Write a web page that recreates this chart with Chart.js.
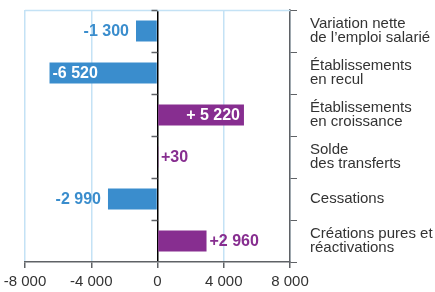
<!DOCTYPE html>
<html>
<head>
<meta charset="utf-8">
<script src="https://cdn.jsdelivr.net/npm/chart.js@4"></script>
<style>
  html, body { margin: 0; padding: 0; background: #fff; }
  #wrap { width: 435px; height: 292px; }
</style>
</head>
<body>
<div id="wrap"><canvas id="barChart" width="435" height="292"></canvas></div>
<script>
// Data
const categories = [
  ['Variation nette', 'de l\u2019emploi salarié'],
  ['Établissements', 'en recul'],
  ['Établissements', 'en croissance'],
  ['Solde', 'des transferts'],
  'Cessations',
  ['Créations pures et', 'réactivations']
];
const values = [-1300, -6520, 5220, 30, -2990, 2960];
const valueLabels = ['-1 300', '-6 520', '+ 5 220', '+30', '-2 990', '+2 960'];
const xTicks = [-8000, -4000, 0, 4000, 8000];

const BLUE = '#3a8dcd';
const PURPLE = '#872e90';
const GRID = '#c4e2f5';
const AXIS = '#5f6266';
const FONT = "'Liberation Sans', Arial, sans-serif";

function fmt(v) {
  const s = Math.abs(v).toString().replace(/\B(?=(\d{3})+(?!\d))/g, ' ');
  return (v < 0 ? '-' : '') + s;
}

// top border, ticks on the zero line and value labels
const extras = {
  id: 'extras',
  beforeDatasetsDraw(chart) {
    const { ctx, chartArea, scales } = chart;
    ctx.save();
    ctx.strokeStyle = GRID;
    ctx.lineWidth = 1.5;
    ctx.beginPath();
    ctx.moveTo(chartArea.left, chartArea.top + 0.5);
    ctx.lineTo(chartArea.right, chartArea.top + 0.5);
    ctx.stroke();
    // small ticks left of the zero line
    const x0 = scales.x.getPixelForValue(0);
    const step = (chartArea.bottom - chartArea.top) / categories.length;
    ctx.strokeStyle = AXIS;
    for (let i = 0; i < categories.length; i++) {
      const y = Math.round(chartArea.top + i * step) + 0.5;
      ctx.beginPath();
      ctx.moveTo(x0 - 6, y);
      ctx.lineTo(x0, y);
      ctx.stroke();
    }
    ctx.restore();
  },
  afterDatasetsDraw(chart) {
    const { ctx } = chart;
    const meta = chart.getDatasetMeta(0);
    ctx.save();
    ctx.font = "bold 16px " + FONT;
    ctx.textBaseline = 'middle';
    meta.data.forEach((bar, i) => {
      const v = values[i];
      const inside = Math.abs(v) > 4000;
      const txt = valueLabels[i];
      if (v < 0) {
        if (inside) {
          ctx.fillStyle = '#fff';
          ctx.textAlign = 'left';
          ctx.fillText(txt, bar.x + 3, bar.y + 1);
        } else {
          ctx.fillStyle = BLUE;
          ctx.textAlign = 'right';
          ctx.fillText(txt, bar.x - 7, bar.y + 1);
        }
      } else {
        if (inside) {
          ctx.fillStyle = '#fff';
          ctx.textAlign = 'right';
          ctx.fillText(txt, bar.x - 4, bar.y + 1);
        } else {
          ctx.fillStyle = PURPLE;
          ctx.textAlign = 'left';
          ctx.fillText(txt, bar.x + 3, bar.y + 1);
        }
      }
    });
    ctx.restore();
  }
};

const ctxBar = document.getElementById('barChart').getContext('2d');
new Chart(ctxBar, {
  type: 'bar',
  data: {
    labels: categories,
    datasets: [{
      data: values,
      backgroundColor: values.map(v => v < 0 ? BLUE : PURPLE),
      borderWidth: 0,
      categoryPercentage: 1,
      barPercentage: 0.5
    }]
  },
  options: {
    indexAxis: 'y',
    responsive: false,
    animation: false,
    layout: { padding: { top: 10, left: 25, right: 0, bottom: 0 } },
    plugins: {
      legend: { display: false },
      tooltip: { enabled: false }
    },
    scales: {
      x: {
        min: -8000,
        max: 8000,
        afterBuildTicks(scale) { scale.ticks = xTicks.map(v => ({ value: v })); },
        afterFit(scale) {
          scale.height = 30;
          scale.paddingLeft = 0;
          scale.paddingRight = 0;
        },
        border: { color: AXIS, width: 1.5 },
        grid: {
          color: ctx => ctx.tick && ctx.tick.value === 0 ? '#000' : GRID,
          lineWidth: 1.5,
          tickColor: AXIS,
          tickLength: 6
        },
        ticks: {
          color: '#333',
          font: { family: FONT, size: 15 },
          padding: 5,
          maxRotation: 0,
          callback: v => fmt(v)
        }
      },
      y: {
        position: 'right',
        afterFit(scale) {
          scale.width = 145;
          scale.paddingTop = 0;
          scale.paddingBottom = 0;
        },
        border: { color: AXIS, width: 1.5 },
        grid: {
          offset: true,
          drawOnChartArea: false,
          tickColor: AXIS,
          tickLength: 7
        },
        ticks: {
          color: '#333',
          font: { family: FONT, size: 15, lineHeight: 0.93 },
          padding: 13
        }
      }
    }
  },
  plugins: [extras]
});
</script>
</body>
</html>
